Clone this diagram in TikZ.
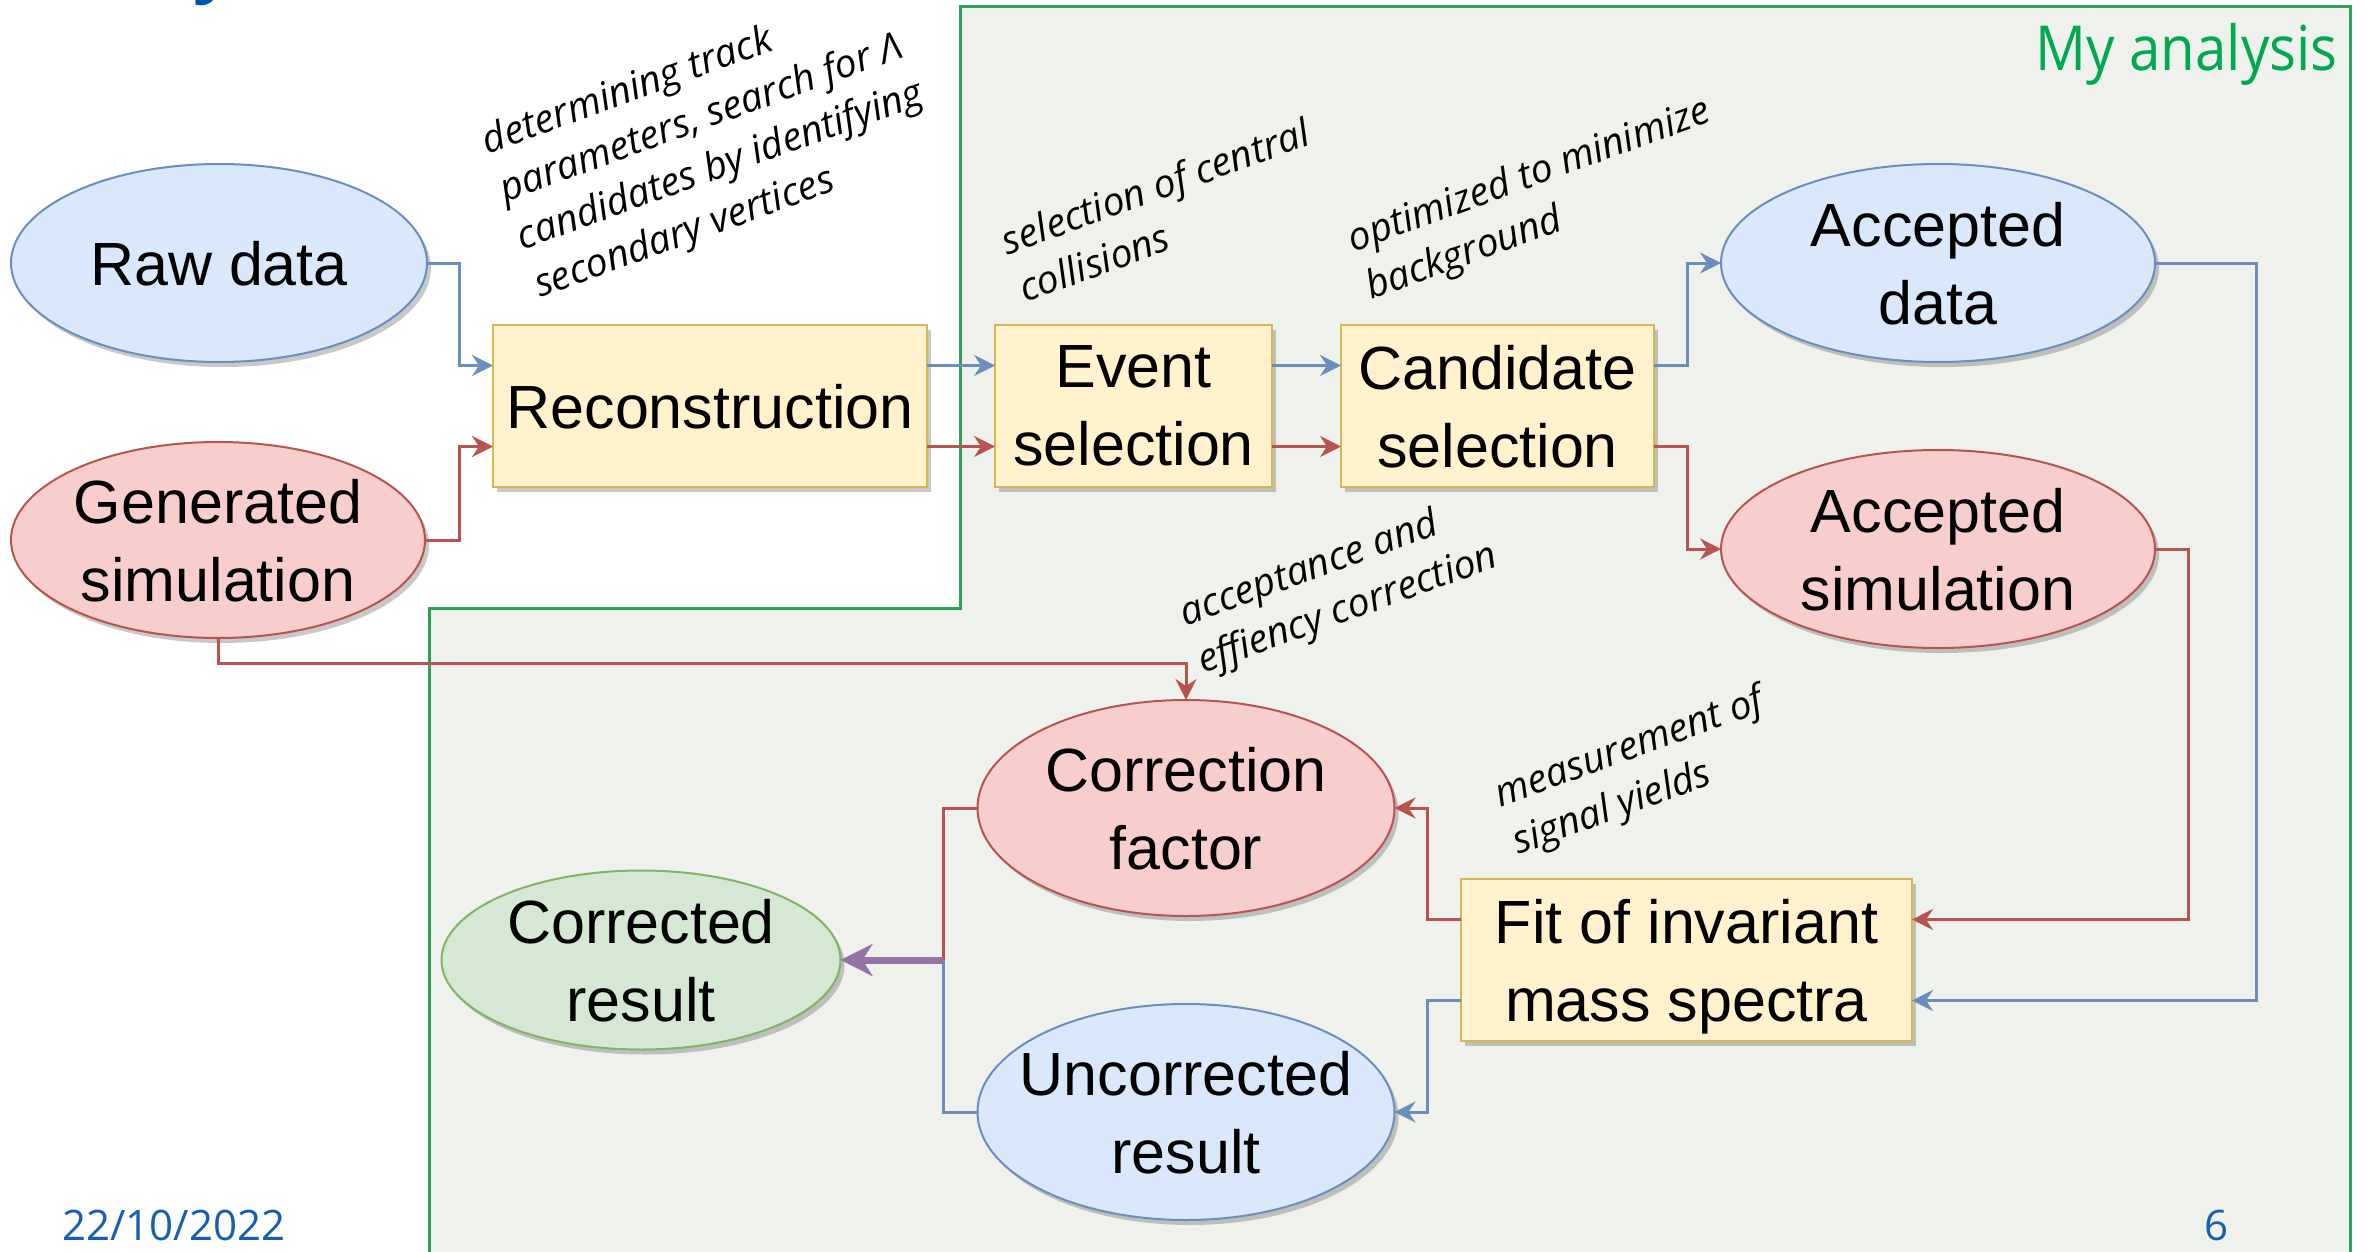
\documentclass[tikz,border=0pt]{standalone}
\usepackage{fontspec}
\setmainfont{Liberation Sans}
\newfontfamily\segfont{Open Sans}
\newfontfamily\segnarrow{Open Sans}[FakeStretch=0.91]
\usetikzlibrary{shapes.geometric,arrows.meta,shadows}
\definecolor{bluefill}{HTML}{DAE8FC}
\definecolor{bluedraw}{HTML}{6C8EBF}
\definecolor{redfill}{HTML}{F8CECC}
\definecolor{reddraw}{HTML}{B85450}
\definecolor{greenfill}{HTML}{D5E8D4}
\definecolor{greendraw}{HTML}{82B366}
\definecolor{yelfill}{HTML}{FFF2CC}
\definecolor{yeldraw}{HTML}{D6B656}
\definecolor{purpline}{HTML}{9673A6}
\definecolor{framefill}{HTML}{EFF1EC}
\definecolor{frameline}{HTML}{2BA15A}
\definecolor{mygreen}{HTML}{00A84F}
\definecolor{slideblue}{HTML}{165EB0}
\definecolor{titleblue}{HTML}{0055AA}
\begin{document}
\begin{tikzpicture}[x=1pt,y=-1pt,
  mainfont/.style={font=\fontsize{61}{78}\selectfont},
  shad/.style={drop shadow={shadow xshift=4pt,shadow yshift=-5pt,opacity=0.3,fill=black!70}},
  oval/.style={ellipse,mainfont,align=center,inner sep=-40pt,outer sep=0pt,line width=2pt,text depth=0pt,shad},
  blueoval/.style={oval,fill=bluefill,draw=bluedraw},
  redoval/.style={oval,fill=redfill,draw=reddraw},
  greenoval/.style={oval,fill=greenfill,draw=greendraw},
  stepbox/.style={rectangle,mainfont,align=center,inner sep=0pt,outer sep=0pt,line width=2pt,fill=yelfill,draw=yeldraw,minimum height=162pt,text depth=0pt,shad},
  annot/.style={font=\segfont\itshape\fontsize{39}{51}\selectfont,rotate=20,align=left,anchor=base west,inner sep=0pt},
  conn/.style={line width=3pt,-{Stealth[length=21pt,width=21pt,inset=7pt]}},
  bl/.style={conn,draw=bluedraw},
  rd/.style={conn,draw=reddraw},
  plain/.style={line width=3pt}
]
\useasboundingbox (0,0) rectangle (2368,1252);
\fill[white] (0,0) rectangle (2368,1252);
% analysis frame
\filldraw[fill=framefill,draw=frameline,line width=3pt] (960,7) -- (2350,7) -- (2350,1265) -- (429,1265) -- (429,608) -- (960,608) -- cycle;
% cut-off title
\node[font=\segfont\bfseries\fontsize{72}{72}\selectfont,text=titleblue,anchor=base,inner sep=0pt] (ttl) at (214,-11) {y};
\node[font=\segnarrow\fontsize{62}{62}\selectfont,text=mygreen,anchor=base east,inner sep=0pt] (myan) at (2338,71) {My analysis};

% nodes
\node[blueoval,minimum width=416pt,minimum height=198pt] (raw) at (219,263) {Raw data};
\node[redoval,minimum width=414pt,minimum height=196pt] (gen) at (218,540) {Generated\\simulation};
\node[stepbox,minimum width=434pt] (reco) at (710,406) {Reconstruction};
\node[stepbox,minimum width=277pt] (event) at (1133.5,406) {Event\\selection};
\node[stepbox,minimum width=313pt] (cand) at (1497.5,406) {Candidate\\selection};
\node[blueoval,minimum width=434pt,minimum height=198pt] (accdata) at (1938,263) {Accepted\\data};
\node[redoval,minimum width=434pt,minimum height=198pt] (accsim) at (1938,549) {Accepted\\simulation};
\node[stepbox,minimum width=451pt] (fit) at (1686.5,960) {Fit of invariant\\mass spectra};
\node[redoval,minimum width=417pt,minimum height=216pt] (cf) at (1186,808) {Correction\\factor};
\node[blueoval,minimum width=417pt,minimum height=216pt] (ur) at (1186,1112) {Uncorrected\\result};
\node[greenoval,minimum width=399pt,minimum height=179pt] (cr) at (641,960) {Corrected\\result};
\coordinate (jn) at (943,960);

% annotations (anchor = baseline of the last line)
\node[annot] (a1) at (540,298) {determining track\\parameters, search for Λ\\candidates by identifying\\secondary vertices};
\node[annot] (a2) at (1025,303) {selection of central\\collisions};
\node[annot] (a3) at (1371,300) {optimized to minimize\\background};
\node[annot] (a4) at (1203,674) {acceptance and\\effiency correction};
\node[annot] (a5) at (1518,855) {measurement of\\signal yields};

% connectors
\draw[bl] (raw.east) -- ++(32,0) |- ([yshift=40.5pt]reco.west);
\draw[rd] (gen.east) -- ++(34,0) |- ([yshift=-40.5pt]reco.west);
\draw[bl] ([yshift=40.5pt]reco.east) -- ([yshift=40.5pt]event.west);
\draw[rd] ([yshift=-40.5pt]reco.east) -- ([yshift=-40.5pt]event.west);
\draw[bl] ([yshift=40.5pt]event.east) -- ([yshift=40.5pt]cand.west);
\draw[rd] ([yshift=-40.5pt]event.east) -- ([yshift=-40.5pt]cand.west);
\draw[bl] ([yshift=40.5pt]cand.east) -- ++(33,0) |- (accdata.west);
\draw[rd] ([yshift=-40.5pt]cand.east) -- ++(33,0) |- (accsim.west);
\draw[bl] (accdata.east) -- ++(101,0) |- ([yshift=-40.5pt]fit.east);
\draw[rd] (accsim.east) -- ++(33,0) |- ([yshift=40.5pt]fit.east);
\draw[rd] ([yshift=40.5pt]fit.west) -- ++(-34,0) |- (cf.east);
\draw[bl] ([yshift=-40.5pt]fit.west) -- ++(-34,0) |- (ur.east);
\draw[rd] (gen.south) -- ++(0,25) -| (cf.north);
\draw[plain,draw=reddraw] (cf.west) -| (jn);
\draw[plain,draw=bluedraw] (ur.west) -| (jn);
\draw[line width=7pt,draw=purpline,-{Stealth[length=32pt,width=32pt,inset=10pt]}] (jn) -- (cr.east);

% footer
\node[font=\segfont\fontsize{42}{42}\selectfont,text=slideblue,anchor=base west,inner sep=0pt] (date) at (62,1240) {22/10/2022};
\node[font=\segfont\fontsize{42}{42}\selectfont,text=slideblue,anchor=base,inner sep=0pt] (pg) at (2216,1240) {6};
\end{tikzpicture}
\end{document}
